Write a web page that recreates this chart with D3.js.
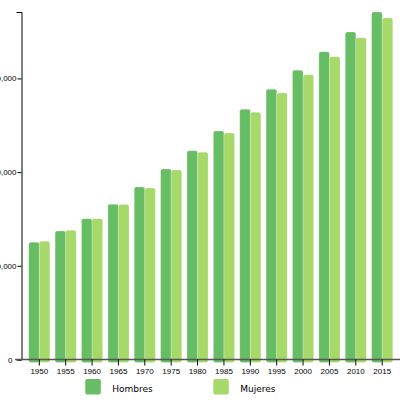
<!doctype html>
<html>
<head>
<meta charset="utf-8">
<script src="https://d3js.org/d3.v7.min.js"></script>
<style>
  body { margin: 0; background: #fff; }
  svg { display: block; font-family: "DejaVu Sans", sans-serif; }
  .axis text { font-size: 8px; fill: #000; }
  .legend text { font-size: 9px; fill: #000; }
</style>
</head>
<body>
<script>
  // poblacion mundial por sexo (miles)
  var years = ["1950","1955","1960","1965","1970","1975","1980","1985","1990","1995","2000","2005","2010","2015"];
  var hombres = [1251000,1371000,1503000,1656000,1841000,2033000,2229000,2439000,2670000,2884000,3086000,3285000,3495000,3709000];
  var mujeres = [1261000,1379000,1503000,1654000,1830000,2023000,2213000,2417000,2639000,2844000,3040000,3232000,3434000,3645000];
  var series = ["Hombres", "Mujeres"];
  var colors = ["#66bd63", "#a6d96a"];

  var width = 400, height = 400;
  var mLeft = 21.5, yBottom = 359.5, yTop = 12;

  var svg = d3.select("body").append("svg").attr("width", width).attr("height", height);

  var x = d3.scaleBand().domain(years).range([mLeft, 400]).paddingInner(0.2).paddingOuter(0.275);
  var x1 = d3.scaleBand().domain(series).range([0, x.bandwidth()]);
  var y = d3.scaleLinear().domain([0, d3.max(hombres)]).range([yBottom, yTop]);

  var rows = years.map(function(yr, i) {
    return {year: yr, vals: [{k: "Hombres", v: hombres[i]}, {k: "Mujeres", v: mujeres[i]}]};
  });

  var g = svg.append("g").selectAll("g").data(rows).enter().append("g")
    .attr("transform", function(d) { return "translate(" + x(d.year) + ",0)"; });

  g.selectAll("rect").data(function(d) { return d.vals; }).enter().append("rect")
    .attr("x", function(d) { return x1(d.k); })
    .attr("width", x1.bandwidth())
    .attr("y", function(d) { return y(d.v); })
    .attr("height", function(d) { return yBottom - y(d.v) + 3; })
    .attr("rx", 2)
    .attr("fill", function(d, i) { return colors[i]; })
    .attr("stroke", "#fff").attr("stroke-opacity", 0.35).attr("stroke-width", 0.6);

  svg.append("g").attr("class", "axis")
    .attr("transform", "translate(" + mLeft + ",0)")
    .call(d3.axisLeft(y).tickValues([0, 1000000, 2000000, 3000000]).tickFormat(d3.format(","))
      .tickSize(4).tickSizeOuter(5).tickPadding(1))
    .call(function(a) {
      a.selectAll(".tick").filter(function(d) { return d === 0; }).select("text").attr("dx", -4);
    });

  svg.append("g").attr("class", "axis")
    .attr("transform", "translate(0," + yBottom + ")")
    .call(d3.axisBottom(x).tickSizeOuter(0))
    .call(function(a) {
      a.select(".domain").attr("stroke", "#555").attr("stroke-width", 1.5)
        .attr("d", "M15,0H400");
    });

  var legend = svg.append("g").attr("class", "legend").selectAll("g").data(series).enter().append("g")
    .attr("transform", function(d, i) { return "translate(" + (85.3 + i * 128) + ",379)"; });
  legend.append("rect").attr("width", 15.5).attr("height", 15.5).attr("rx", 2)
    .attr("fill", function(d, i) { return colors[i]; });
  legend.append("text").attr("x", 27).attr("y", 13.3).text(function(d) { return d; });
</script>
</body>
</html>
